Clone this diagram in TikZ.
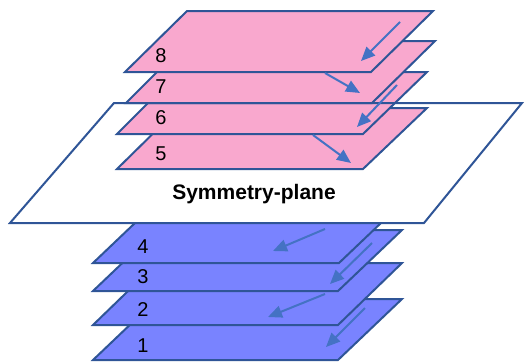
\documentclass[tikz,border=0pt]{standalone}
\usepackage{fontspec}
\setmainfont{Liberation Sans}
\usetikzlibrary{arrows.meta}
\definecolor{pinkfill}{RGB}{249,168,206}
\definecolor{bluefill}{RGB}{121,131,255}
\definecolor{edgeblue}{RGB}{47,85,151}
\definecolor{arrowblue}{RGB}{68,114,196}
\tikzset{
  platebox/.style={draw=edgeblue, line width=2pt, line join=miter},
  flowarrow/.style={draw=arrowblue, line width=2pt, -{Triangle[length=14pt,width=12pt]}},
  numlabel/.style={font=\fontsize{20}{20}\selectfont, inner sep=0pt},
  planelabel/.style={font=\fontsize{21}{21}\selectfont\bfseries, inner sep=0pt}
}
\begin{document}
\begin{tikzpicture}[x=1pt,y=-1pt]
\useasboundingbox (0,0) rectangle (527,362);
% lower plates
\draw[platebox, fill=bluefill] (93,360) -- (338,360) -- (402,299) -- (157,299) -- cycle;
\draw[platebox, fill=bluefill] (93,325) -- (338,325) -- (402,263) -- (157,263) -- cycle;
\draw[platebox, fill=bluefill] (93,291) -- (338,291) -- (402,230) -- (157,230) -- cycle;
\draw[platebox, fill=bluefill] (93,263) -- (339,263) -- (403,202) -- (157,202) -- cycle;
% symmetry plane fill
\fill[white] (10,223) -- (424,223) -- (522,103) -- (114,103) -- cycle;
% upper plates 5, 6
\draw[platebox, fill=pinkfill] (117,169) -- (363,169) -- (427,108) -- (179,108) -- cycle;
\draw[platebox, fill=pinkfill] (117,134) -- (363,134) -- (427,72) -- (179,72) -- cycle;
% symmetry plane outline
\draw[platebox] (10,223) -- (424,223) -- (522,103) -- (114,103) -- cycle;
% upper plates 7, 8
\draw[platebox, fill=pinkfill] (126,103) -- (372,103) -- (435,41) -- (188,41) -- cycle;
\draw[platebox, fill=pinkfill] (125,72) -- (371,72) -- (433,11) -- (187,11) -- cycle;
% labels
\node[planelabel] (sym) at (254,194) {Symmetry-plane};
\node[numlabel] (n8) at (161,56) {8};
\node[numlabel] (n7) at (161,87) {7};
\node[numlabel] (n6) at (161,118) {6};
\node[numlabel] (n5) at (161,154) {5};
\node[numlabel] (n4) at (143,247) {4};
\node[numlabel] (n3) at (143,277) {3};
\node[numlabel] (n2) at (143,310) {2};
\node[numlabel] (n1) at (143,346) {1};
% arrow end points
\coordinate (a8s) at (400,22);  \coordinate (a8e) at (361,61);
\coordinate (a7s) at (325,73);  \coordinate (a7e) at (360,93);
\coordinate (a6s) at (397,85);  \coordinate (a6e) at (357,127);
\coordinate (a5s) at (313,135); \coordinate (a5e) at (351,163);
\coordinate (a4s) at (325,229); \coordinate (a4e) at (273,251);
\coordinate (a3s) at (372,243); \coordinate (a3e) at (330,284);
\coordinate (a2s) at (325,294); \coordinate (a2e) at (268,317);
\coordinate (a1s) at (365,308); \coordinate (a1e) at (326,347);
\foreach \k in {1,...,8} {\draw[flowarrow] (a\k s) -- (a\k e);}
\end{tikzpicture}
\end{document}
